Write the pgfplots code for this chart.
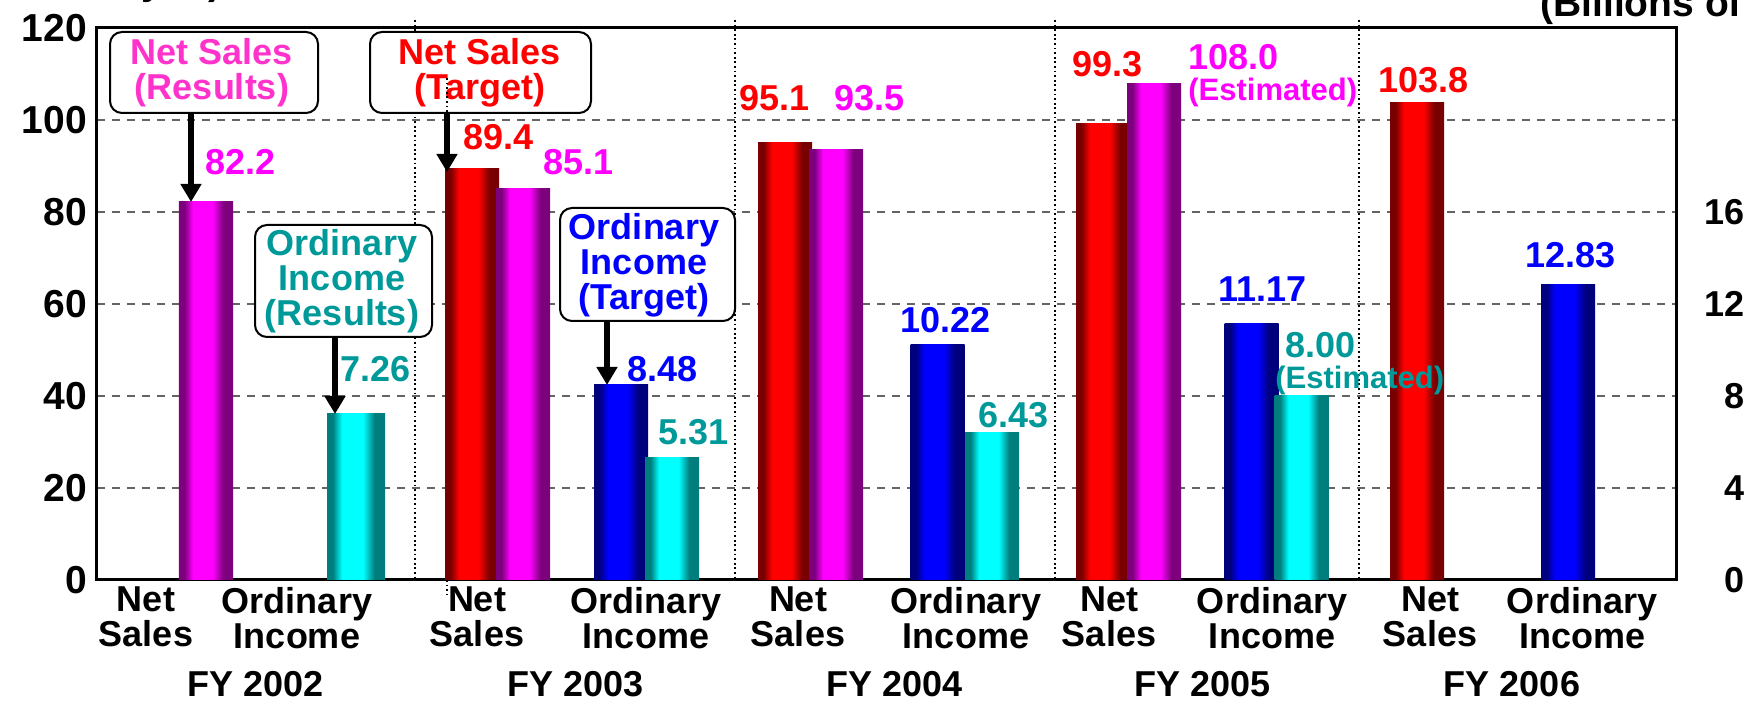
\documentclass[border=0pt]{standalone}
\usepackage{fontspec}
\setmainfont{Liberation Sans}
\usepackage{pgfplots}
\pgfplotsset{compat=1.18}
\usetikzlibrary{arrows.meta}

\definecolor{rdk}{RGB}{120,0,0}
\definecolor{rbr}{RGB}{255,0,0}
\definecolor{mdk}{RGB}{125,0,125}
\definecolor{mbr}{RGB}{255,0,255}
\definecolor{bdk}{RGB}{0,0,125}
\definecolor{bbr}{RGB}{0,0,255}
\definecolor{cdk}{RGB}{0,125,125}
\definecolor{cbr}{RGB}{0,255,255}
\definecolor{pinktxt}{RGB}{255,51,204}
\definecolor{teal}{RGB}{0,153,153}
\definecolor{gridgray}{RGB}{100,100,100}

% cylinder-like shading: dark edges, bright left of centre
\pgfdeclarehorizontalshading{redbar}{100bp}{color(0bp)=(rdk); color(25bp)=(rdk); color(30bp)=(rdk); color(38bp)=(rbr); color(56bp)=(rbr); color(66bp)=(rdk); color(75bp)=(rdk); color(100bp)=(rdk)}
\pgfdeclarehorizontalshading{magbar}{100bp}{color(0bp)=(mdk); color(25bp)=(mdk); color(30bp)=(mdk); color(38bp)=(mbr); color(56bp)=(mbr); color(66bp)=(mdk); color(75bp)=(mdk); color(100bp)=(mdk)}
\pgfdeclarehorizontalshading{bluebar}{100bp}{color(0bp)=(bdk); color(25bp)=(bdk); color(30bp)=(bdk); color(38bp)=(bbr); color(56bp)=(bbr); color(66bp)=(bdk); color(75bp)=(bdk); color(100bp)=(bdk)}
\pgfdeclarehorizontalshading{cyanbar}{100bp}{color(0bp)=(cdk); color(25bp)=(cdk); color(30bp)=(cdk); color(38bp)=(cbr); color(56bp)=(cbr); color(66bp)=(cdk); color(75bp)=(cdk); color(100bp)=(cdk)}

\newcommand\vfont{\fontsize{18}{17.5}\selectfont\bfseries}
\newcommand\efont{\fontsize{15.5}{15.5}\selectfont\bfseries}
\newcommand\tfont{\fontsize{19.5}{19.5}\selectfont\bfseries}

\pgfplotsset{
  bar3d/.style={ybar, bar shift=0pt, bar width=27pt, draw=none, shade, shading=#1, forget plot},
}

\begin{document}
\begin{tikzpicture}
% left axis: net sales
\begin{axis}[
  scale only axis, width=789.5pt, height=276pt,
  xmin=97, xmax=1676, ymin=0, ymax=120,
  ytick={0,20,...,120},
  xtick={146,297,477,646,798,966,1109,1272,1430,1582},
  xticklabels={{Net\\Sales},{Ordinary\\Income},{Net\\Sales},{Ordinary\\Income},{Net\\Sales},{Ordinary\\Income},{Net\\Sales},{Ordinary\\Income},{Net\\Sales},{Ordinary\\Income}},
  extra x ticks={256,576,895,1203,1512},
  extra x tick labels={FY 2002,FY 2003,FY 2004,FY 2005,FY 2006},
  extra x tick style={tick label style={yshift=-42pt}},
  major tick length=0pt,
  ymajorgrids,
  grid style={gridgray, line width=0.7pt, dash pattern=on 4pt off 3.5pt},
  axis line style={line width=1.5pt},
  /pgf/number format/assume math mode=true,
  xticklabel style={align=center, font=\vfont},
  yticklabel style={font=\tfont, xshift=-1.5pt},
  clip=false,
]
% Net Sales (Target)
\addplot[bar3d=redbar] coordinates {(472,89.4)};
\addplot[bar3d=redbar] coordinates {(785,95.1)};
\addplot[bar3d=redbar] coordinates {(1103,99.3)};
\addplot[bar3d=redbar] coordinates {(1417,103.8)};
% Net Sales (Results)
\addplot[bar3d=magbar] coordinates {(206,82.2)};
\addplot[bar3d=magbar] coordinates {(523,85.1)};
\addplot[bar3d=magbar] coordinates {(836,93.5)};
\addplot[bar3d=magbar] coordinates {(1154,108.0)};
\end{axis}
% right axis: ordinary income
\begin{axis}[
  scale only axis, width=789.5pt, height=276pt,
  xmin=97, xmax=1676, ymin=0, ymax=24,
  axis y line*=right, axis x line=none,
  ytick={0,4,8,12,16},
  major tick length=0pt,
  axis line style={line width=1.5pt},
  /pgf/number format/assume math mode=true,
  yticklabel style={font=\vfont, anchor=east, xshift=37.8pt},
  clip=false,
]
% Ordinary Income (Target)
\addplot[bar3d=bluebar] coordinates {(621,8.48)};
\addplot[bar3d=bluebar] coordinates {(937.5,10.22)};
\addplot[bar3d=bluebar] coordinates {(1251.5,11.17)};
\addplot[bar3d=bluebar] coordinates {(1568,12.83)};
% Ordinary Income (Results)
\addplot[bar3d=cyanbar, bar width=29pt] coordinates {(356,7.26)};
\addplot[bar3d=cyanbar] coordinates {(672,5.31)};
\addplot[bar3d=cyanbar] coordinates {(992,6.43)};
\addplot[bar3d=cyanbar] coordinates {(1301.5,8.00)};
\end{axis}

% annotations in pixel units of the reference (origin top left)
\begin{scope}[x=0.5pt, y=-0.5pt, shift={(-48.5pt,290pt)}]
  % group separators
  \foreach \sx in {415,735,1055,1359}
    \draw[line width=0.9pt, dash pattern=on 0.9pt off 1.4pt] (\sx,20) -- (\sx,580);
  \draw[line width=0.9pt, dash pattern=on 0.9pt off 1.4pt] (447,580) -- (447,594);

  % call-out boxes
  \draw[line width=1pt, rounded corners=6pt, fill=white] (110,32) rectangle (318,113);
  \node[pinktxt, font=\vfont, align=center] at (212,73) {Net Sales\\(Results)};
  \draw[line width=1pt, rounded corners=6pt, fill=white] (370,32) rectangle (591,113);
  \node[rbr, font=\vfont, align=center] at (480,73) {Net Sales\\(Target)};
  \draw[line width=1pt, rounded corners=6pt, fill=white] (255,225) rectangle (432,337);
  \node[teal, font=\vfont, align=center] at (342,281) {Ordinary\\Income\\(Results)};
  \draw[line width=1pt, rounded corners=6pt, fill=white] (560,208) rectangle (735,321);
  \node[bbr, font=\vfont, align=center] at (644,265) {Ordinary\\Income\\(Target)};
  \draw[line width=0.9pt, dash pattern=on 0.9pt off 1.4pt] (447,78) -- (447,113);

  % arrows
  \draw[line width=2.8pt, -{Triangle[width=10pt,length=9pt]}] (191,113) -- (191,202);
  \draw[line width=2.8pt, -{Triangle[width=10pt,length=9pt]}] (447,113) -- (447,172);
  \draw[line width=2.8pt, -{Triangle[width=10pt,length=9pt]}] (335,337) -- (335,414);
  \draw[line width=2.8pt, -{Triangle[width=10pt,length=9pt]}] (607,321) -- (607,385);

  % value labels
  \begin{scope}[every node/.style={anchor=base west, inner sep=0pt, font=\vfont}]
    \node[mbr] at (205,175) {82.2};
    \node[teal] at (340,382) {7.26};
    \node[rbr] at (463,150) {89.4};
    \node[mbr] at (543,175) {85.1};
    \node[bbr] at (627,382) {8.48};
    \node[teal] at (658,445) {5.31};
    \node[rbr] at (739,111) {95.1};
    \node[mbr] at (834,111) {93.5};
    \node[bbr] at (900,333) {10.22};
    \node[teal] at (978,428) {6.43};
    \node[rbr] at (1072,77) {99.3};
    \node[mbr] at (1188,70) {108.0};
    \node[mbr, font=\efont] at (1188,101) {(Estimated)};
    \node[bbr] at (1218,302) {11.17};
    \node[teal] at (1285,358) {8.00};
    \node[teal, font=\efont] at (1275,389) {(Estimated)};
    \node[rbr] at (1378,93) {103.8};
    \node[bbr] at (1525,268) {12.83};
    % unit captions, cut by the edge of the picture as in the original
    \node[anchor=base east, font=\tfont] at (222,-5) {(Billions of yen)};
    \node[font=\tfont] at (1540,17) {(Billions of yen)};
  \end{scope}

  \pgfresetboundingbox
  \path[use as bounding box] (0,0) rectangle (1744,705);
\end{scope}
\end{tikzpicture}
\end{document}
